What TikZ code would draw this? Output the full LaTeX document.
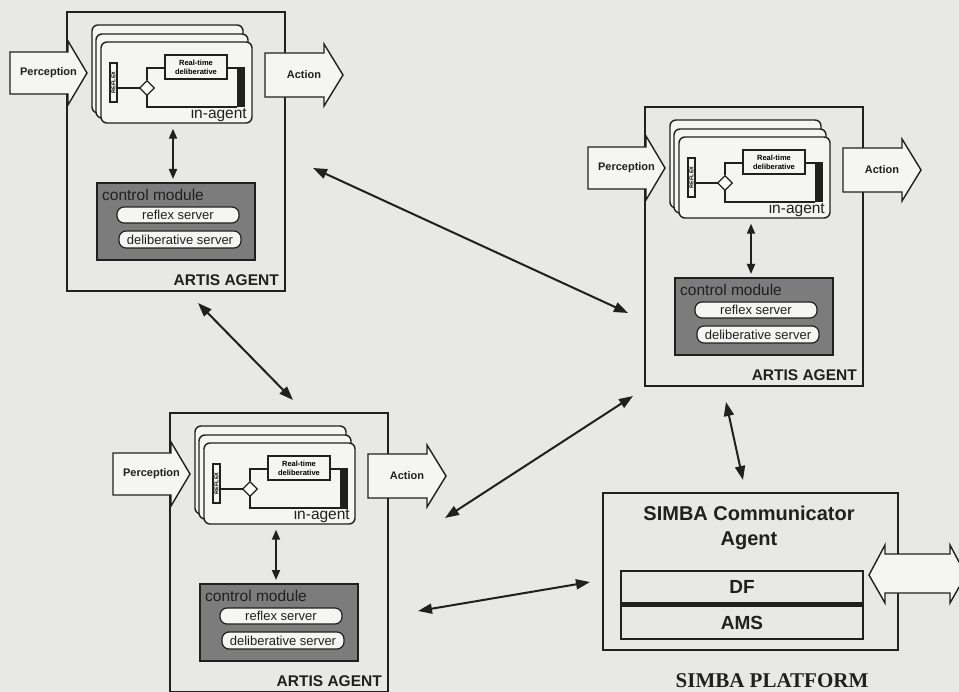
\documentclass[tikz,border=0pt]{standalone}
\usepackage{fontspec}
\setmainfont{Liberation Sans}
\newfontfamily\platformfont{Liberation Serif}
\usetikzlibrary{arrows.meta,calc,shapes.geometric}

\definecolor{paper}{RGB}{232,232,230}
\definecolor{ink}{RGB}{32,32,32}
\definecolor{modgrey}{RGB}{124,124,124}
\definecolor{cardfill}{RGB}{245,245,244}

\tikzset{
  agentframe/.style={draw=ink, line width=2pt, inner sep=0pt,
    minimum width=218pt, minimum height=279pt},
  card/.style={draw=ink, line width=1.4pt, fill=cardfill, rounded corners=6pt},
  frontcard/.style={card, inner sep=0pt, minimum width=151pt, minimum height=81pt},
  blockarrow/.style={draw=ink, line width=1.4pt, fill=cardfill, line join=miter},
  arrowlabel/.style={font=\bfseries\fontsize{11}{13}\selectfont, text=ink, inner sep=0pt},
  wire/.style={draw=ink, line width=1.2pt},
  rtbox/.style={draw=ink, line width=1.2pt, fill=cardfill, inner sep=0pt,
    minimum width=62pt, minimum height=24pt, align=center,
    font=\bfseries\fontsize{7.5}{9}\selectfont},
  reflexbox/.style={draw=ink, line width=1.2pt, fill=cardfill, inner sep=0pt,
    rotate=90, minimum width=39pt, minimum height=7pt,
    font=\bfseries\fontsize{5.5}{5.5}\selectfont},
  switch/.style={draw=ink, line width=1.2pt, fill=white, diamond, inner sep=0pt,
    minimum width=15pt, minimum height=15pt},
  module/.style={draw=ink, line width=2pt, fill=modgrey, inner sep=0pt,
    minimum width=158pt, minimum height=77pt},
  pill/.style={draw=ink, line width=1.2pt, fill=cardfill, rounded corners=7pt,
    inner sep=0pt, minimum width=122pt, minimum height=16pt,
    font=\fontsize{13}{15}\selectfont, text=ink},
  link/.style={draw=ink, line width=2pt,
    {Triangle[length=14pt,width=10pt]}-{Triangle[length=14pt,width=10pt]}},
  innerlink/.style={draw=ink, line width=1.8pt,
    {Triangle[length=10pt,width=8pt]}-{Triangle[length=10pt,width=8pt]}},
  bigtext/.style={font=\fontsize{15.5}{18}\selectfont, text=ink, inner sep=0pt},
}

% one ARTIS agent, drawn relative to the top-left corner of its frame
\newcommand{\artisagent}[3]{%
\begin{scope}[shift={(#2,#3)}]
  \node[agentframe] (#1) at (109,139.5) {};
  % stacked in-agent cards
  \draw[card] (25,13) rectangle (176,101);
  \draw[card] (29,22) rectangle (181,106);
  \node[frontcard] (#1-card) at (109.5,70.5) {};
  % reflex / deliberative switch
  \draw[wire] (50,76) -- (72.5,76);
  \draw[wire] (80,68.5) -- (80,56) -- (98,56);
  \draw[wire] (160,56) -- (170,56);
  \draw[wire] (80,83.5) -- (80,95) -- (170,95);
  \fill[ink] (170,55.5) rectangle (178,95.5);
  \node[reflexbox] (#1-rfx) at (46.5,70.5) {REFLEX};
  \node[switch] (#1-sw) at (80,76) {};
  \node[rtbox] (#1-rt) at (129,55) {Real-time\\deliberative};
  \node[bigtext, anchor=east] (#1-in) at (180,102) {in-agent};
  % control module
  \node[module] (#1-mod) at (109,209.5) {};
  \node[bigtext, anchor=west] (#1-modlbl) at (35,183) {control module};
  \node[pill] (#1-rs) at (111,203) {reflex server};
  \node[pill, minimum height=17pt] (#1-ds) at (113,227.5) {deliberative server};
  \draw[innerlink] ([xshift=-3.5pt,yshift=-5pt]#1-card.south) --
                   ([xshift=-3pt,yshift=3pt]#1-mod.north);
  \node[font=\bfseries\fontsize{15.5}{18}\selectfont, text=ink, anchor=east,
        inner sep=0pt] (#1-name) at (212,268) {ARTIS AGENT};
  % perception and action block arrows over the frame
  \draw[blockarrow] (-57,40) -- (1,40) -- (1,29) -- (20,61) -- (1,93) -- (1,82)
                    -- (-57,82) -- cycle;
  \draw[blockarrow] (198,41) -- (257,41) -- (257,32) -- (276,63) -- (257,94)
                    -- (257,85) -- (198,85) -- cycle;
  \node[arrowlabel] (#1-perc) at (-18.5,61) {Perception};
  \node[arrowlabel] (#1-act) at (237,63) {Action};
\end{scope}}

\begin{document}
\begin{tikzpicture}[x=1pt, y=-1pt]
  \fill[paper] (0,0) rectangle (959,692);
  \useasboundingbox (0,0) rectangle (959,692);

  \artisagent{agentA}{67}{12}
  \artisagent{agentB}{645}{107}
  \artisagent{agentC}{170}{413}

  % SIMBA communicator agent
  \node[draw=ink, line width=2pt, inner sep=0pt, minimum width=295pt,
        minimum height=157pt] (simba) at (750.5,571.5) {};
  \node[font=\bfseries\fontsize{20}{25}\selectfont, text=ink, align=center,
        inner sep=0pt] (simba-title) at (749,527.5) {SIMBA Communicator\\Agent};
  \node[draw=ink, line width=1.6pt, inner sep=0pt, minimum width=242pt,
        minimum height=32pt, font=\bfseries\fontsize{19}{22}\selectfont,
        text=ink] (df) at (742,587) {DF};
  \node[draw=ink, line width=1.6pt, inner sep=0pt, minimum width=242pt,
        minimum height=33pt, font=\bfseries\fontsize{19}{22}\selectfont,
        text=ink] (ams) at (742,622.5) {AMS};
  \draw[ink, line width=4pt] (df.south west) -- (df.south east);
  \draw[blockarrow] (869,575) -- (885,545) -- (885,554) -- (950,554) -- (950,545)
                    -- (966,575) -- (950,603) -- (950,593) -- (885,593)
                    -- (885,603) -- cycle;
  \node[font=\platformfont\bfseries\fontsize{21}{25}\selectfont, text=ink,
        inner sep=0pt] (platform) at (772,681) {SIMBA PLATFORM};

  % links between the agents
  \coordinate (l1a) at (313,168);  \coordinate (l1b) at (628,313);
  \coordinate (l2a) at (198,303);  \coordinate (l2b) at (293,400);
  \coordinate (l3a) at (445,518);  \coordinate (l3b) at (633,396);
  \coordinate (l4a) at (418,611);  \coordinate (l4b) at (590,582);
  \coordinate (l5a) at (726,402);  \coordinate (l5b) at (743,480);
  \draw[link] (l1a) -- (l1b);
  \draw[link] (l2a) -- (l2b);
  \draw[link] (l3a) -- (l3b);
  \draw[link] (l4a) -- (l4b);
  \draw[link] (l5a) -- (l5b);
\end{tikzpicture}
\end{document}
